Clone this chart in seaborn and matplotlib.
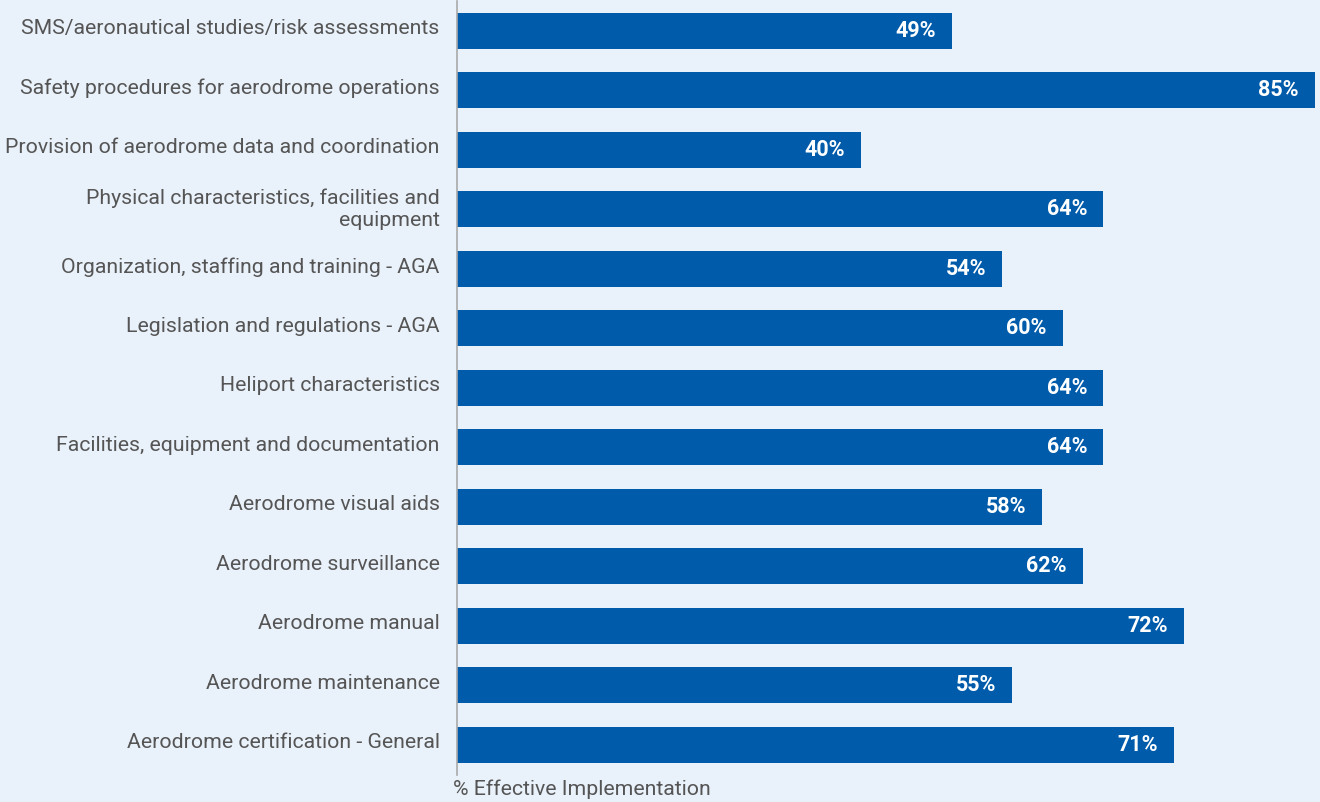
import matplotlib
matplotlib.use("Agg")
import matplotlib.pyplot as plt
import matplotlib.transforms as mtransforms
import seaborn as sns
import pandas as pd

categories = [
    "SMS/aeronautical studies/risk assessments",
    "Safety procedures for aerodrome operations",
    "Provision of aerodrome data and coordination",
    "Physical characteristics, facilities and\nequipment",
    "Organization, staffing and training - AGA",
    "Legislation and regulations - AGA",
    "Heliport characteristics",
    "Facilities, equipment and documentation",
    "Aerodrome visual aids",
    "Aerodrome surveillance",
    "Aerodrome manual",
    "Aerodrome maintenance",
    "Aerodrome certification - General",
]
values = [49, 85, 40, 64, 54, 60, 64, 64, 58, 62, 72, 55, 71]
x_label = "% Effective Implementation"

BG = "#E9F1FA"
BAR = "#005BAA"
TXT = "#555555"

sns.set_theme(style="white")
plt.rcParams["font.family"] = ["Roboto", "DejaVu Sans"]

df = pd.DataFrame({"category": categories, "value": values})

fig = plt.figure(figsize=(13.2, 8.02), dpi=100, facecolor=BG)
ax = fig.add_axes([457 / 1320, 1 - 774.5 / 802, 863 / 1320, 773.5 / 802])
ax.set_facecolor(BG)

sns.barplot(data=df, x="value", y="category", orient="h", color=BAR,
            saturation=1, width=0.6, linewidth=0, edgecolor="none", ax=ax)

ax.set_xlim(0, 85.5)
ax.set_ylim(len(categories) - 0.5, -0.5)

for i, v in enumerate(values):
    ax.annotate(f"{v}%", xy=(v, i), xytext=(-11.5, 0), textcoords="offset points",
                ha="right", va="center", color="white", fontsize=15.5,
                fontweight="bold")

for s in ["top", "right", "bottom"]:
    ax.spines[s].set_visible(False)
ax.spines["left"].set_color("#AAAAAA")
ax.spines["left"].set_linewidth(1.2)

ax.set_xticks([])
ax.tick_params(axis="y", length=0, pad=12.5, labelsize=15.3, labelcolor=TXT)
shift = mtransforms.ScaledTranslation(0, 4 / 100, fig.dpi_scale_trans)
for lbl in ax.get_yticklabels():
    lbl.set_transform(lbl.get_transform() + shift)
ax.set_ylabel("")
ax.set_xlabel("")
fig.text(453 / 1320, 1 - 789 / 802, x_label, ha="left", va="center",
         fontsize=15.3, color=TXT)

fig.savefig("out.png", dpi=100, facecolor=BG)
